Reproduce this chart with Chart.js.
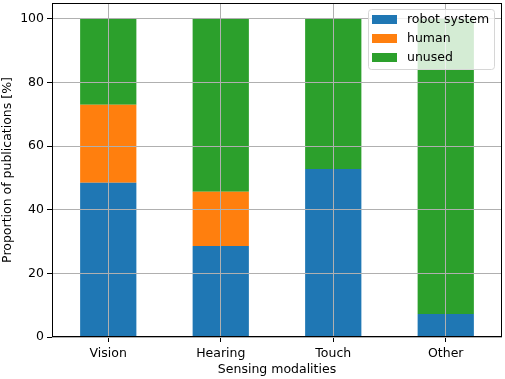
<!DOCTYPE html>
<html>
<head>
<meta charset="utf-8">
<script src="https://cdn.jsdelivr.net/npm/chart.js@4.4.0/dist/chart.umd.min.js"></script>
<style>
  html, body { margin: 0; padding: 0; background: #fff; }
  #wrap { width: 505px; height: 379px; }
</style>
</head>
<body>
<div id="wrap"><canvas id="modalityChart"></canvas></div>
<script>
const categories = ['Vision', 'Hearing', 'Touch', 'Other'];
const robotSystem = [48.5, 28.6, 52.8, 7.2];
const human = [24.5, 17.1, 0, 0];
const unused = [27.0, 54.3, 47.2, 92.8];
const yTicks = [0, 20, 40, 60, 80, 100];

const font = { family: 'DejaVu Sans', size: 12.5 };

// cadre complet + légende dans la zone du graphique
const framePlugin = {
    id: 'frame',
    afterDraw(chart) {
        const { ctx, chartArea } = chart;
        ctx.save();
        ctx.strokeStyle = '#000';
        ctx.lineWidth = 1;
        ctx.strokeRect(chartArea.left + 0.5, chartArea.top + 0.5,
            chartArea.right - chartArea.left - 1, chartArea.bottom - chartArea.top - 1);

        // légende
        const x = chartArea.right - 134, y = chartArea.top + 6, w = 126, h = 60;
        ctx.beginPath();
        ctx.roundRect(x + 0.5, y + 0.5, w, h, 3);
        ctx.fillStyle = 'rgba(255,255,255,0.8)';
        ctx.fill();
        ctx.strokeStyle = '#d6d6d6';
        ctx.stroke();
        ctx.font = '12.5px "DejaVu Sans"';
        ctx.textBaseline = 'middle';
        chart.data.datasets.forEach((ds, i) => {
            const cy = y + 10.5 + i * 19;
            ctx.fillStyle = ds.backgroundColor;
            ctx.fillRect(x + 4, cy - 4.5, 25, 9);
            ctx.fillStyle = '#000';
            ctx.fillText(ds.label, x + 39, cy);
        });
        ctx.restore();
    }
};

const ctx = document.getElementById('modalityChart').getContext('2d');
new Chart(ctx, {
    type: 'bar',
    data: {
        labels: categories,
        datasets: [
            { label: 'robot system', data: robotSystem, backgroundColor: '#1f77b4' },
            { label: 'human', data: human, backgroundColor: '#ff7f0e' },
            { label: 'unused', data: unused, backgroundColor: '#2ca02c' }
        ]
    },
    options: {
        responsive: true,
        maintainAspectRatio: false,
        animation: false,
        layout: { padding: { top: 3, right: 3, left: 0, bottom: 0 } },
        datasets: {
            bar: { barPercentage: 0.5, categoryPercentage: 1.0, borderWidth: 0 }
        },
        scales: {
            x: {
                stacked: true,
                border: { display: false },
                grid: { offset: false, z: 1, color: '#b0b0b0', tickColor: '#000', tickLength: 5, lineWidth: 1 },
                ticks: { color: '#000', font: font, padding: 4, maxRotation: 0 },
                title: { display: true, text: 'Sensing modalities', color: '#000', font: font, padding: { top: 0, bottom: 2 } },
                afterFit(scale) { scale.height = 42; scale.paddingLeft = 0; scale.paddingRight = 0; }
            },
            y: {
                stacked: true,
                min: 0,
                max: 105,
                border: { display: false },
                grid: { z: 1, color: '#b0b0b0', tickColor: '#000', tickLength: 5, lineWidth: 1 },
                ticks: { color: '#000', font: font, padding: 3, stepSize: 20 },
                afterBuildTicks(scale) { scale.ticks = yTicks.map(v => ({ value: v })); },
                title: { display: true, text: 'Proportion of publications [%]', color: '#000', font: font, padding: { top: 0, bottom: 2 } },
                afterFit(scale) { scale.width = 52; scale.paddingTop = 0; scale.paddingBottom = 0; }
            }
        },
        plugins: {
            legend: { display: false },
            tooltip: { enabled: false }
        }
    },
    plugins: [framePlugin]
});
</script>
</body>
</html>
